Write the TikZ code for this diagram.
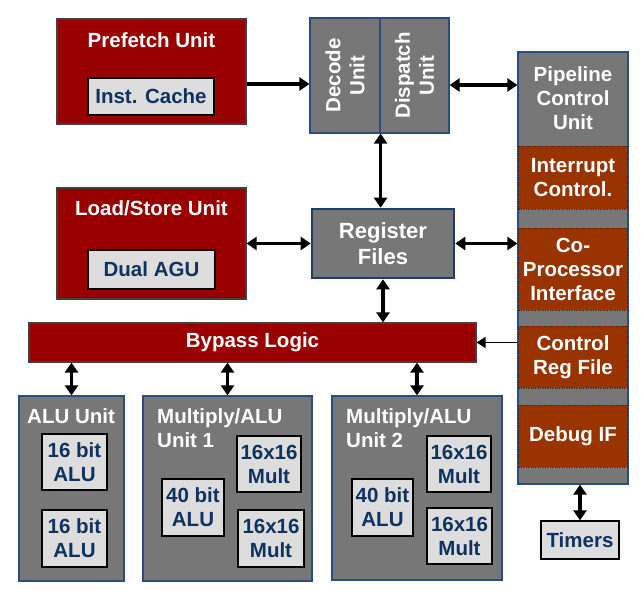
\documentclass[tikz,border=0pt]{standalone}
\usepackage{fontspec}
\setmainfont{Liberation Sans}
\usetikzlibrary{arrows.meta}
\definecolor{darkred}{HTML}{990000}
\definecolor{rustred}{HTML}{993300}
\definecolor{boxgray}{HTML}{777777}
\definecolor{cellgray}{HTML}{DDDDDD}
\definecolor{navytext}{HTML}{10325F}
\definecolor{blueedge}{HTML}{2B4C7E}
\begin{document}
\begin{tikzpicture}[x=1pt,y=-1pt,
  font=\fontsize{20.5}{24}\selectfont\bfseries,
  redbox/.style={draw=black!75,line width=1.2pt,fill=darkred,inner sep=0pt},
  graybox/.style={draw=blueedge,line width=1.2pt,fill=boxgray,inner sep=0pt,text=white,align=center},
  ctrlbox/.style={draw=rustred!50!black,dotted,fill=rustred,inner sep=0pt,text=white,align=center},
  cellbox/.style={draw=black,line width=1.3pt,fill=cellgray,text=navytext,align=center,inner sep=0pt},
  title/.style={text=white,align=left,inner sep=0pt},
  arr/.style={line width=3.4pt,{Triangle[length=10pt,width=13pt]}-{Triangle[length=10pt,width=13pt]}},
  onearr/.style={line width=1.8pt,-{Triangle[length=9pt,width=11pt]}}]
\useasboundingbox (0,0) rectangle (642,591);

% Prefetch and load/store
\node[redbox,minimum width=189,minimum height=105] (prefetch) at (151.5,71.5) {};
\node[title] (prefetchtitle) at (151.5,40) {Prefetch Unit};
\node[cellbox,minimum width=126,minimum height=37] (icache) at (151,96.5) {Inst. Cache};
\node[redbox,minimum width=189,minimum height=111] (ls) at (151.5,243.5) {};
\node[title] (lstitle) at (151.5,208) {Load/Store Unit};
\node[cellbox,minimum width=127,minimum height=39] (agu) at (151.5,269.5) {Dual AGU};

% Decode / dispatch
\node[graybox,minimum width=70,minimum height=115,
  label={[rotate=90,align=center,text=white]center:{Decode\\Unit}}] (decode) at (345,75.5) {};
\node[graybox,minimum width=69,minimum height=115,
  label={[rotate=90,align=center,text=white]center:{Dispatch\\Unit}}] (dispatch) at (414.5,75.5) {};

% Register files
\node[graybox,draw=blueedge!80!black,line width=2.6pt,minimum width=142,minimum height=69,
  font=\fontsize{22}{26}\selectfont\bfseries] (reg) at (383,243.5) {Register\\Files};

% Pipeline control column
\node[graybox,minimum width=110,minimum height=432] (pcol) at (573,268) {};
\node[text=white,align=center,inner sep=0pt] (pcu) at (573,98) {Pipeline\\Control\\Unit};
\node[ctrlbox,minimum width=109,minimum height=63] (intr) at (573,177.5) {Interrupt\\Control.};
\node[ctrlbox,minimum width=109,minimum height=82] (copro) at (573,269) {Co-\\Processor\\Interface};
\node[ctrlbox,minimum width=109,minimum height=62] (ctrlreg) at (573,357) {Control\\Reg File};
\node[ctrlbox,minimum width=109,minimum height=62] (debug) at (573,436) {Debug IF};
\node[cellbox,minimum width=78,minimum height=38] (timers) at (580,540) {Timers};

% Bypass logic
\node[redbox,minimum width=447,minimum height=39,text=white] (bypass) at (252.5,342.5) {Bypass Logic};

% Execution units
\node[graybox,minimum width=105,minimum height=185] (alu) at (71.5,488.5) {};
\node[title,anchor=west] (alutitle) at (27,416) {ALU Unit};
\node[cellbox,minimum width=65,minimum height=56] (alua) at (74.5,462) {16 bit\\ALU};
\node[cellbox,minimum width=65,minimum height=57] (alub) at (74.5,538.5) {16 bit\\ALU};

\node[graybox,minimum width=169,minimum height=185] (mula) at (227.5,488.5) {};
\node[title,anchor=west] (mulatitle) at (157,428) {Multiply/ALU\\Unit 1};
\node[cellbox,minimum width=62,minimum height=57] (mulaalu) at (193,507.5) {40 bit\\ALU};
\node[cellbox,minimum width=64,minimum height=56] (mulamulta) at (269,464) {16x16\\Mult};
\node[cellbox,minimum width=66,minimum height=57] (mulamultb) at (271,538.5) {16x16\\Mult};

\node[graybox,minimum width=170,minimum height=184] (mulb) at (417,488) {};
\node[title,anchor=west] (mulbtitle) at (346,428) {Multiply/ALU\\Unit 2};
\node[cellbox,minimum width=61,minimum height=57] (mulbalu) at (382.5,507.5) {40 bit\\ALU};
\node[cellbox,minimum width=64,minimum height=56] (mulbmulta) at (459,464) {16x16\\Mult};
\node[cellbox,minimum width=65,minimum height=56] (mulbmultb) at (459.5,536) {16x16\\Mult};

% Connectors
\draw[line width=3.4pt,-{Triangle[length=10pt,width=13pt]}] (prefetch.east |- 0,84) -- (decode.west |- 0,84);
\draw[arr] (dispatch.east |- 0,85) -- (pcol.west |- 0,85);
\draw[arr] (ls.east) -- (reg.west);
\draw[arr] (reg.east) -- (reg.east -| pcol.west);
\draw[arr] (decode.south east) -- (decode.south east |- reg.north);
\draw[arr] (reg.south) -- (reg.south |- bypass.north);
\draw[onearr] (bypass.east -| pcol.west) -- (bypass.east);
\draw[arr] (alu.north) -- (alu.north |- bypass.south);
\draw[arr] (mula.north) -- (mula.north |- bypass.south);
\draw[arr] (mulb.north) -- (mulb.north |- bypass.south);
\draw[arr] (timers.north) -- (timers.north |- pcol.south);
\end{tikzpicture}
\end{document}
